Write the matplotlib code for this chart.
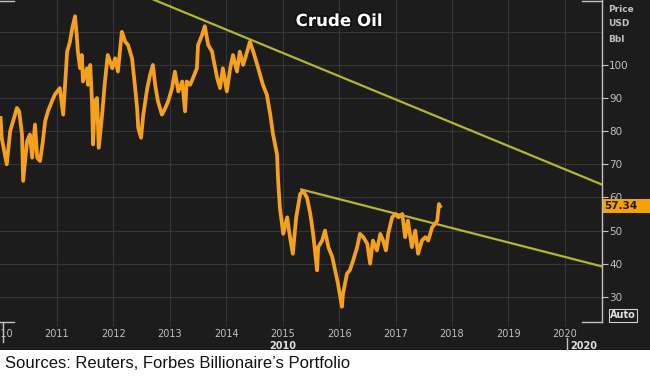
import matplotlib
matplotlib.use('Agg')
import matplotlib.pyplot as plt
from matplotlib.patches import Rectangle
from matplotlib.lines import Line2D
import matplotlib.patheffects as pe

# ---- data ----
dates = [2010.00, 2010.02, 2010.11, 2010.17, 2010.29, 2010.33, 2010.38, 2010.40, 2010.47, 2010.52,
         2010.56, 2010.61, 2010.65, 2010.70, 2010.75, 2010.79, 2010.84, 2010.91, 2010.96, 2011.05,
         2011.11, 2011.14, 2011.18, 2011.23, 2011.27, 2011.32, 2011.35, 2011.37, 2011.41, 2011.44,
         2011.46, 2011.53, 2011.55, 2011.59, 2011.62, 2011.64, 2011.67, 2011.71, 2011.74, 2011.80,
         2011.85, 2011.90, 2011.98, 2012.03, 2012.08, 2012.15, 2012.21, 2012.26, 2012.33, 2012.38,
         2012.42, 2012.44, 2012.49, 2012.53, 2012.60, 2012.65, 2012.70, 2012.74, 2012.79, 2012.86,
         2012.92, 2012.97, 2013.04, 2013.09, 2013.15, 2013.22, 2013.27, 2013.30, 2013.36, 2013.41,
         2013.48, 2013.50, 2013.57, 2013.62, 2013.68, 2013.75, 2013.77, 2013.84, 2013.89, 2013.94,
         2014.01, 2014.07, 2014.12, 2014.19, 2014.24, 2014.30, 2014.37, 2014.42, 2014.48, 2014.55,
         2014.60, 2014.65, 2014.72, 2014.78, 2014.83, 2014.90, 2014.92, 2014.95, 2015.01, 2015.08,
         2015.13, 2015.18, 2015.24, 2015.31, 2015.36, 2015.43, 2015.49, 2015.54, 2015.61, 2015.63,
         2015.70, 2015.75, 2015.81, 2015.88, 2015.93, 2015.98, 2016.05, 2016.07, 2016.14, 2016.19,
         2016.25, 2016.32, 2016.37, 2016.43, 2016.50, 2016.55, 2016.60, 2016.67, 2016.73, 2016.78,
         2016.83, 2016.87, 2016.94, 2017.00, 2017.05, 2017.12, 2017.17, 2017.22, 2017.29, 2017.35,
         2017.40, 2017.47, 2017.53, 2017.58, 2017.65, 2017.70, 2017.74, 2017.77, 2017.79]
prices = [84, 78, 70, 80, 87, 86, 79, 65, 77, 79,
          72, 82, 72, 71, 77, 83, 86, 89, 91, 93,
          85, 93, 104, 107, 111, 114.7, 109, 104, 99, 103,
          95, 99, 94, 100, 89, 76, 89, 90, 75, 85,
          95, 103, 99, 102, 98, 110, 107, 106, 102, 94,
          87, 81, 78, 85, 93, 97, 100, 94, 89, 85,
          87, 89, 93, 98, 92, 95, 86, 95, 94, 96,
          99, 106, 109, 111.7, 106, 104, 102, 96, 93, 99,
          92, 99, 103, 98, 104, 100, 104, 107, 104, 100,
          97, 94, 91, 85, 79, 73, 65, 57, 49, 54,
          48, 43, 54, 61, 62, 60, 55, 49, 38, 45,
          47, 50, 45, 42, 38, 34, 27, 31, 37, 38,
          41, 45, 49, 48, 46, 40, 47, 44, 49, 47,
          44, 49, 54, 55, 54, 55, 48, 53, 45, 50,
          43, 47, 48, 47, 51, 52, 53, 58, 57.34]
upper_trend_x = [2012.6, 2020.7]
upper_trend_y = [120.5, 63.6]
lower_trend_x = [2015.31, 2020.7]
lower_trend_y = [62.5, 39.0]
year_ticks = list(range(2010, 2021))
year_labels = [str(y) for y in year_ticks]
price_ticks = [30, 40, 50, 60, 70, 80, 90, 100]
grid_levels = [30, 40, 50, 60, 70, 80, 90, 100, 110]
last_price = "57.34"
title = "Crude Oil"
unit_lines = ["Price", "USD", "Bbl"]
source = "Sources: Reuters, Forbes Billionaire\u2019s Portfolio"

W, H = 650, 378
BG = '#1c1c1c'
GRID = '#353535'
ORANGE = '#f5a11e'
TREND = '#b3b633'
FRAME = '#c4c4c4'
LABEL = '#c0c0c0'

fig = plt.figure(figsize=(W / 100, H / 100), dpi=100, facecolor='white')
fig.patches.append(Rectangle((0, 28 / H), 1, 1 - 28 / H, transform=fig.transFigure,
                             facecolor=BG, edgecolor='none', zorder=-10))

ax = fig.add_axes([0, 56 / H, 602 / W, 1 - 56 / H])
ax.set_zorder(1)
ax.set_facecolor(BG)
ax.set_xlim(2009.99, 2020.66)
ax.set_ylim(22.4, 119.6)
for s in ax.spines.values():
    s.set_visible(False)
ax.spines['right'].set_visible(True)
ax.spines['right'].set_color(FRAME)
ax.spines['right'].set_linewidth(1.0)

for g in grid_levels:
    ax.axhline(g, color=GRID, lw=0.8, zorder=1)
for yv in year_ticks[1:]:
    ax.axvline(yv, color=GRID, lw=0.8, zorder=1)

ax.plot(upper_trend_x, upper_trend_y, color=TREND, lw=1.6, zorder=3, solid_capstyle='butt')
ax.plot(lower_trend_x, lower_trend_y, color=TREND, lw=1.6, zorder=3, solid_capstyle='butt')
ax.plot(dates, prices, color=ORANGE, lw=2.7, zorder=4, solid_joinstyle='round')

ax.set_xticks(year_ticks)
ax.set_xticklabels(year_labels)
ax.tick_params(axis='x', colors=GRID, length=3, pad=2, labelsize=7, labelcolor=LABEL)
ax.yaxis.tick_right()
ax.set_yticks(price_ticks)
ax.set_yticklabels([str(p) for p in price_ticks])
ax.tick_params(axis='y', colors=FRAME, length=4, width=0.8, pad=1, labelsize=7.5, labelcolor=LABEL)

# title
fig.text(339 / W, 1 - 21 / H, title, ha='center', va='center', fontsize=12,
         fontweight='bold', color='white', family='DejaVu Sans', zorder=5,
         path_effects=[pe.withStroke(linewidth=2.5, foreground='#111111')])

# unit labels
for i, t in enumerate(unit_lines):
    fig.text(608 / W, 1 - (9 + 15 * i) / H, t, ha='left', va='center', fontsize=6.5,
             fontweight='bold', color=LABEL, zorder=5)

# last price box
fig.patches.append(Rectangle((603 / W, 1 - 213 / H), 47 / W, 14 / H, transform=fig.transFigure,
                             facecolor='#f5a10a', edgecolor='none', zorder=5))
fig.text(604 / W, 1 - 206 / H, last_price, ha='left', va='center', fontsize=7.5,
         fontweight='bold', color='#1a1a1a', zorder=6)

# Auto box
fig.text(623 / W, 1 - 315.5 / H, "Auto", ha='center', va='center', fontsize=7,
         fontweight='bold', color='#e0e0e0', zorder=5,
         bbox=dict(boxstyle='square,pad=0.15', facecolor=BG, edgecolor='#d0d0d0', lw=0.8))

# frame corners
def seg(x0, y0, x1, y1):
    fig.add_artist(Line2D([x0 / W, x1 / W], [1 - y0 / H, 1 - y1 / H], color=FRAME, lw=1.0,
                          transform=fig.transFigure, zorder=5))
seg(0, 1, 14, 1)
seg(582, 1, 602, 1)
seg(0, 322, 14, 322)
seg(582, 322, 602, 322)
seg(3, 323, 3, 342)
seg(567, 338, 567, 350)

# secondary period labels
fig.text(283 / W, 1 - 346 / H, "2010", ha='center', va='center', fontsize=7,
         fontweight='bold', color='#e0e0e0', zorder=5)
fig.text(570 / W, 1 - 346 / H, "2020", ha='left', va='center', fontsize=7,
         fontweight='bold', color='#e0e0e0', zorder=5)

# source
fig.text(5 / W, 1 - 364 / H, source, ha='left', va='center', fontsize=12,
         family='Liberation Sans', color='#111111', zorder=5)

fig.savefig('out.png', dpi=100, facecolor='white')
